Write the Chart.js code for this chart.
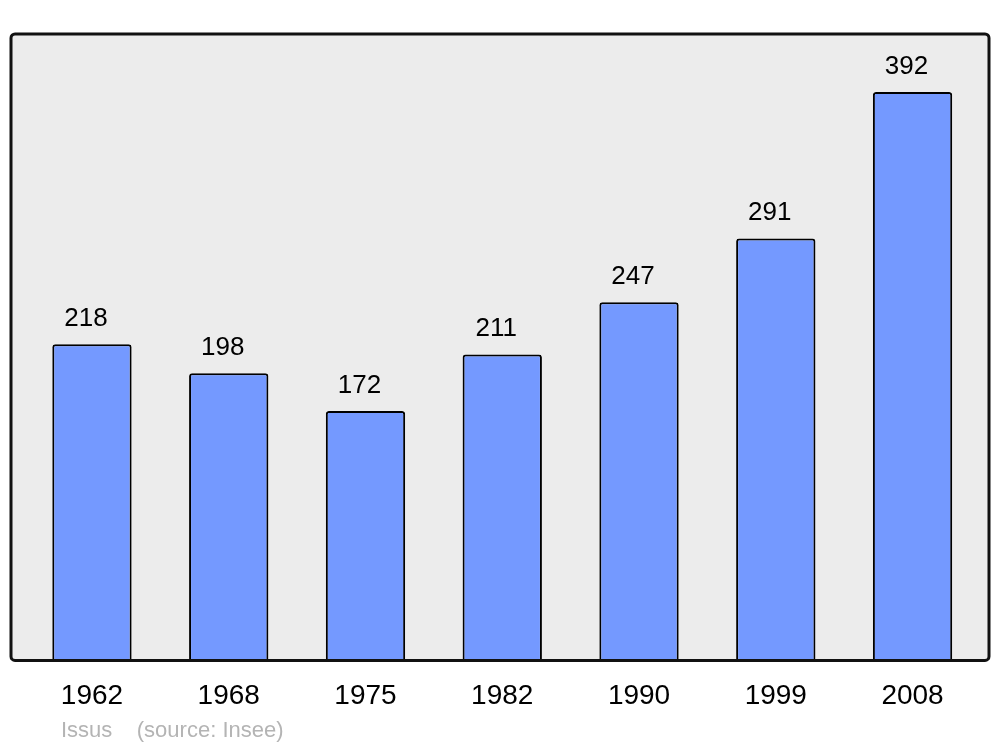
<!DOCTYPE html>
<html lang="fr">
<head>
  <meta charset="UTF-8" />
  <title>Population Issus</title>
  <script src="https://cdn.jsdelivr.net/npm/chart.js"></script>
  <style>
    body { margin: 0; background: #fff; font-family: "Liberation Sans", Arial, sans-serif; }
    #wrap { position: relative; width: 1000px; height: 747px; }
    #source { position: absolute; left: 61px; top: 717px; font-size: 22px; color: #b4b4b4; white-space: pre; }
  </style>
</head>
<body>
  <div id="wrap">
    <canvas id="popChart" width="1000" height="747"></canvas>
    <div id="source">Issus    (source: Insee)</div>
  </div>
  <script>
    const years = ["1962", "1968", "1975", "1982", "1990", "1999", "2008"];
    const population = [218, 198, 172, 211, 247, 291, 392];
    const yMax = 432;

    // gray panel with black frame behind the bars
    const panelPlugin = {
      id: 'panel',
      beforeDraw(chart) {
        const { ctx, chartArea: a } = chart;
        ctx.save();
        ctx.beginPath();
        ctx.roundRect(a.left, a.top, a.right - a.left, a.bottom - a.top, 4);
        ctx.fillStyle = '#ececec';
        ctx.fill();
        ctx.restore();
      },
      afterDatasetsDraw(chart) {
        const { ctx, chartArea: a } = chart;
        ctx.save();
        ctx.beginPath();
        ctx.roundRect(a.left, a.top, a.right - a.left, a.bottom - a.top, 4);
        ctx.lineWidth = 3;
        ctx.strokeStyle = '#111';
        ctx.stroke();
        ctx.restore();
      }
    };

    // value above each bar
    const valueLabels = {
      id: 'valueLabels',
      afterDatasetsDraw(chart) {
        const { ctx } = chart;
        const meta = chart.getDatasetMeta(0);
        ctx.save();
        ctx.font = '26px "Liberation Sans", Arial, sans-serif';
        ctx.fillStyle = '#000';
        ctx.textAlign = 'center';
        ctx.textBaseline = 'alphabetic';
        meta.data.forEach((bar, i) => {
          ctx.fillText(population[i], bar.x - 6, bar.y - 18);
        });
        ctx.restore();
      }
    };

    new Chart(document.getElementById('popChart'), {
      type: 'bar',
      data: {
        datasets: [{
          data: population.map((v, i) => ({ x: i, y: v })),
          backgroundColor: '#7499ff',
          borderColor: '#000',
          borderWidth: 2,
          borderSkipped: 'bottom',
          borderRadius: { topLeft: 3, topRight: 3 },
          barPercentage: 0.58,
          categoryPercentage: 1
        }]
      },
      options: {
        responsive: false,
        animation: false,
        layout: { padding: { left: 11, right: 11, top: 34, bottom: 15 } },
        plugins: {
          legend: { display: false },
          tooltip: { enabled: false }
        },
        scales: {
          x: {
            type: 'linear',
            min: -0.592,
            max: 6.559,
            offset: false,
            grid: { display: false, drawTicks: false },
            border: { display: false },
            afterBuildTicks(axis) {
              axis.ticks = years.map((y, i) => ({ value: i }));
            },
            ticks: {
              padding: 19,
              color: '#000',
              font: { family: '"Liberation Sans", Arial, sans-serif', size: 28 },
              callback: (v) => years[v]
            }
          },
          y: {
            display: false,
            min: 0,
            max: yMax
          }
        }
      },
      plugins: [panelPlugin, valueLabels]
    });
  </script>
</body>
</html>
